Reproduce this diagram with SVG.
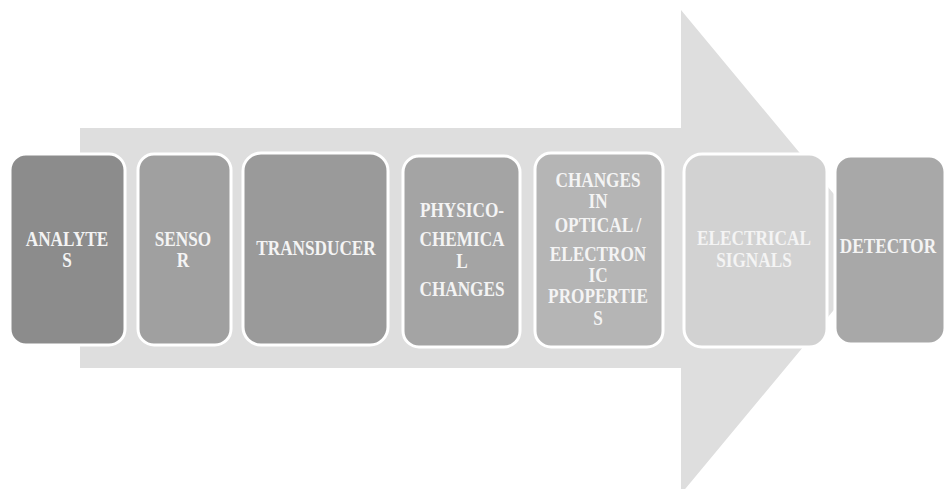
<svg xmlns="http://www.w3.org/2000/svg" width="945" height="489" viewBox="0 0 945 489">
<style>
.box{stroke:#ffffff;stroke-width:3}
.t{font-family:"Liberation Serif","Times New Roman",serif;font-weight:bold;font-size:21px;fill:#f4f4f4;text-anchor:middle}
</style>
<rect width="945" height="489" fill="#ffffff"/>
<g id="connectors">
<path d="M80,128 H681 V10 L882,252 L681,494 V368 H80 Z" fill="#dedede"/>
</g>
<g id="analytes">
<rect class="box" x="10" y="154" width="115" height="191" rx="16" fill="#8c8c8c"/>
<g transform="translate(67,0) scale(0.82,1)"><text class="t" x="0" y="246">ANALYTE</text><text class="t" x="0" y="267">S</text></g>
</g>
<g id="sensor">
<rect class="box" x="138" y="154" width="93" height="191" rx="16" fill="#a0a0a0"/>
<g transform="translate(183,0) scale(0.82,1)"><text class="t" x="0" y="246">SENSO</text><text class="t" x="0" y="267">R</text></g>
</g>
<g id="transducer">
<rect class="box" x="243" y="153" width="145" height="192" rx="18" fill="#9a9a9a"/>
<g transform="translate(316,0) scale(0.82,1)"><text class="t" x="0" y="255">TRANSDUCER</text></g>
</g>
<g id="physico">
<rect class="box" x="403" y="156" width="117" height="191" rx="16" fill="#a4a4a4"/>
<g transform="translate(462,0) scale(0.82,1)"><text class="t" x="0" y="217">PHYSICO-</text><text class="t" x="0" y="246">CHEMICA</text><text class="t" x="0" y="268">L</text><text class="t" x="0" y="296">CHANGES</text></g>
</g>
<g id="changes">
<rect class="box" x="535" y="153" width="128" height="194" rx="16" fill="#b5b5b5"/>
<g transform="translate(598,0) scale(0.82,1)"><text class="t" x="0" y="187">CHANGES</text><text class="t" x="0" y="208">IN</text><text class="t" x="0" y="232">OPTICAL /</text><text class="t" x="0" y="261">ELECTRON</text><text class="t" x="0" y="282">IC</text><text class="t" x="0" y="303">PROPERTIE</text><text class="t" x="0" y="325">S</text></g>
</g>
<g id="electrical">
<rect class="box" x="684" y="154" width="143" height="193" rx="18" fill="#d2d2d2"/>
<g transform="translate(754,0) scale(0.82,1)"><text class="t" x="0" y="245">ELECTRICAL</text><text class="t" x="0" y="267">SIGNALS</text></g>
</g>
<g id="detector">
<rect class="box" x="835" y="156" width="110" height="188" rx="16" fill="#a8a8a8"/>
<g transform="translate(888,0) scale(0.82,1)"><text class="t" x="0" y="253">DETECTOR</text></g>
</g>
</svg>
